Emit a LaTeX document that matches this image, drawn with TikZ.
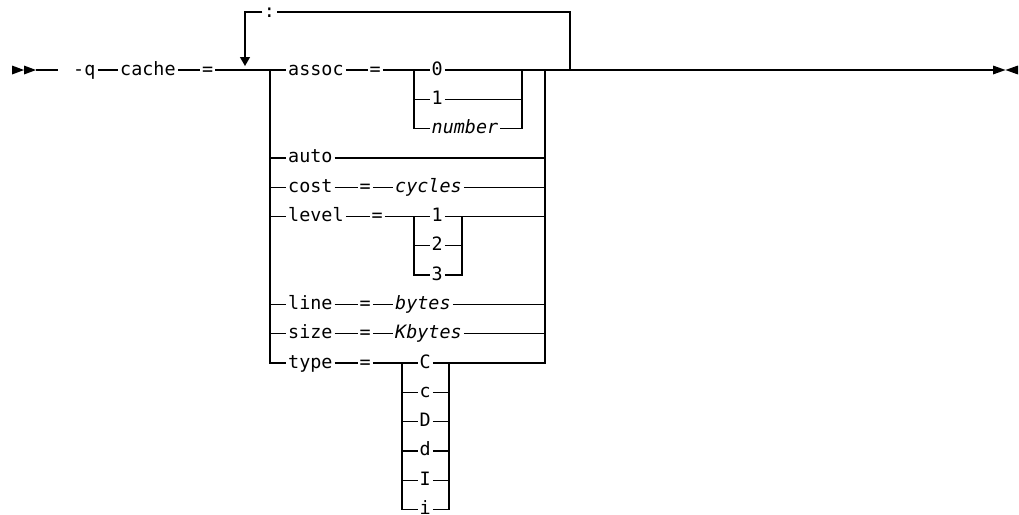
\documentclass[tikz,border=0pt]{standalone}
\usepackage{fontspec}
\setmonofont{DejaVu Sans Mono}
\usetikzlibrary{arrows.meta}
\begin{document}
\begin{tikzpicture}[x=1pt,y=-1pt,
  rail/.style={line width=1.3pt},
  tok/.style={anchor=west, inner xsep=2pt, inner ysep=0pt, text height=10pt, text depth=0pt, font=\ttfamily\fontsize{18.4}{20}\selectfont},
  var/.style={tok, font=\ttfamily\itshape\fontsize{18.4}{20}\selectfont},
  tip/.style={fill=black}]
\useasboundingbox (0,0) rectangle (1019,514);
% start / end marks
\fill[tip] (12,65.5) -- (24,70) -- (12,74.5) -- cycle;
\fill[tip] (24,65.5) -- (36,70) -- (24,74.5) -- cycle;
\fill[tip] (993,65.5) -- (1005.5,70) -- (993,74.5) -- cycle;
\fill[tip] (1018,65.5) -- (1005.5,70) -- (1018,74.5) -- cycle;
\coordinate (start) at (36,70);
\coordinate (startend) at (58,70);
\coordinate (endp) at (993,70);
% main tokens
\node[tok] (q) at (71,70) {-q};
\node[tok] (cache) at (118,70) {cache};
\node[tok] (eq0) at (200,70) {=};
\coordinate (B) at (270,70);
\coordinate (R) at (545,70);
\coordinate (M) at (570,70);
% repeat loop
\coordinate (loopL) at (245,12);
\coordinate (loopR) at (570,12);
\coordinate (arrowtip) at (245,66);
\node[tok, anchor=center, inner xsep=1.5pt] (colon) at (269.5,12) {:};
% assoc row
\node[tok] (assoc) at (286,70) {assoc};
\node[tok] (aeq) at (367.5,70) {=};
\coordinate (aL) at (414,70);
\coordinate (aR) at (522,70);
\node[tok] (a0) at (429.5,70) {0};
\node[tok] (a1) at (429.5,99.3) {1};
\node[var] (an) at (429.5,128.6) {number};
% auto
\node[tok] (auto) at (286,157.9) {auto};
% cost
\node[tok] (cost) at (286,187.2) {cost};
\node[tok] (ceq) at (357.5,187.2) {=};
\node[var] (cycles) at (393,187.2) {cycles};
% level
\node[tok] (level) at (286,216.5) {level};
\node[tok] (leq) at (369.5,216.5) {=};
\coordinate (lL) at (414,216.5);
\coordinate (lR) at (462,216.5);
\node[tok] (l1) at (429.5,216.5) {1};
\node[tok] (l2) at (429.5,245.8) {2};
\node[tok] (l3) at (429.5,275.1) {3};
% line
\node[tok] (line) at (286,304.4) {line};
\node[tok] (lineq) at (357.5,304.4) {=};
\node[var] (bytes) at (393,304.4) {bytes};
% size
\node[tok] (size) at (286,333.7) {size};
\node[tok] (seq) at (357.5,333.7) {=};
\node[var] (kbytes) at (393,333.7) {Kbytes};
% type
\node[tok] (type) at (286,363) {type};
\node[tok] (teq) at (357.5,363) {=};
\coordinate (tL) at (402,363);
\coordinate (tR) at (449,363);
\node[tok] (tC) at (417.5,363) {C};
\node[tok] (tc) at (417.5,392.3) {c};
\node[tok] (tD) at (417.5,421.6) {D};
\node[tok] (td) at (417.5,450.9) {d};
\node[tok] (tI) at (417.5,480.2) {I};
\node[tok] (ti) at (417.5,509.5) {i};

\begin{scope}[rail]
% main line
\draw (start) -- (startend);
\draw (q.east) -- (cache.west);
\draw (cache.east) -- (eq0.west);
\draw (eq0.east) -- (B) -- (assoc.west);
\draw (R) -- (endp);
% loop
\draw (M) -- (loopR) -- (colon.east);
\draw[-{Triangle[width=10pt,length=9pt]}] (colon.west) -- (loopL) -- (arrowtip);
% branch rails
\draw (B) -- (B |- type.west) -- (type.west);
\draw (R) -- (R |- tR) -- (tR);
% assoc
\draw (assoc.east) -- (aeq.west);
\draw (aeq.east) -- (aL) -- (a0.west);
\draw (aL) -- (aL |- an.west) -- (an.west);
\draw (aL |- a1.west) -- (a1.west);
\draw (a0.east) -- (aR) -- (R);
\draw (a1.east) -- (aR |- a1.east);
\draw (an.east) -- (aR |- an.east) -- (aR);
% auto
\draw (B |- auto.west) -- (auto.west);
\draw (auto.east) -- (R |- auto.east);
% cost
\draw (B |- cost.west) -- (cost.west);
\draw (cost.east) -- (ceq.west);
\draw (ceq.east) -- (cycles.west);
\draw (cycles.east) -- (R |- cycles.east);
% level
\draw (B |- level.west) -- (level.west);
\draw (level.east) -- (leq.west);
\draw (leq.east) -- (lL) -- (l1.west);
\draw (lL) -- (lL |- l3.west) -- (l3.west);
\draw (lL |- l2.west) -- (l2.west);
\draw (l1.east) -- (lR) -- (R |- lR);
\draw (l2.east) -- (lR |- l2.east);
\draw (l3.east) -- (lR |- l3.east) -- (lR);
% line
\draw (B |- line.west) -- (line.west);
\draw (line.east) -- (lineq.west);
\draw (lineq.east) -- (bytes.west);
\draw (bytes.east) -- (R |- bytes.east);
% size
\draw (B |- size.west) -- (size.west);
\draw (size.east) -- (seq.west);
\draw (seq.east) -- (kbytes.west);
\draw (kbytes.east) -- (R |- kbytes.east);
% type
\draw (type.east) -- (teq.west);
\draw (teq.east) -- (tL) -- (tC.west);
\draw (tL) -- (tL |- ti.west) -- (ti.west);
\draw (tL |- tc.west) -- (tc.west);
\draw (tL |- tD.west) -- (tD.west);
\draw (tL |- td.west) -- (td.west);
\draw (tL |- tI.west) -- (tI.west);
\draw (tC.east) -- (tR);
\draw (tc.east) -- (tR |- tc.east);
\draw (tD.east) -- (tR |- tD.east);
\draw (td.east) -- (tR |- td.east);
\draw (tI.east) -- (tR |- tI.east);
\draw (ti.east) -- (tR |- ti.east) -- (tR);
\end{scope}
\end{tikzpicture}
\end{document}
